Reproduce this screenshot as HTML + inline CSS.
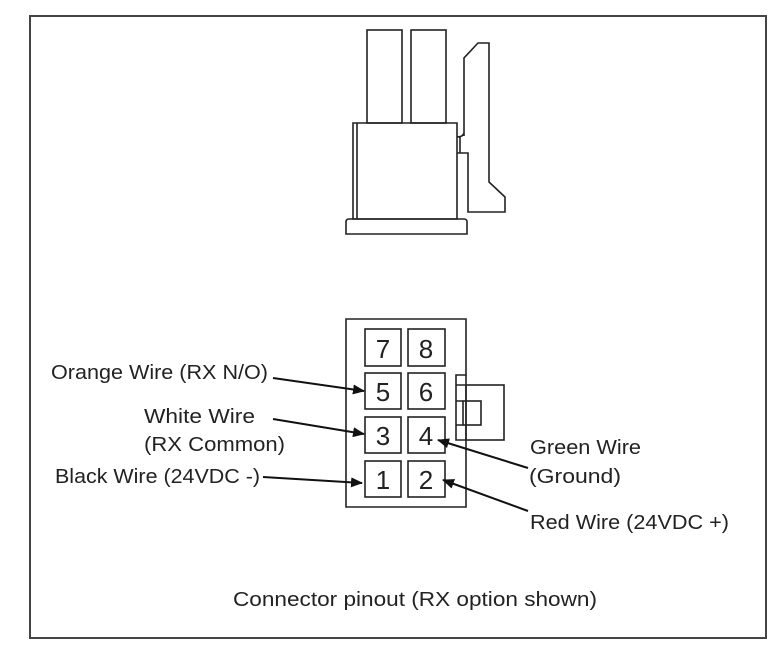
<!DOCTYPE html>
<html><head><meta charset="utf-8"><style>
html,body{margin:0;padding:0;background:#fff;}
svg{display:block;}
text{font-family:"Liberation Sans",sans-serif;fill:#222;font-size:20px;}
</style></head><body>
<svg width="780" height="649" viewBox="0 0 780 649" xmlns="http://www.w3.org/2000/svg">
<defs><marker id="a" markerWidth="12" markerHeight="10" refX="11" refY="5" orient="auto" markerUnits="userSpaceOnUse"><path d="M0,0 L12,5 L0,10 Z" fill="#111"/></marker></defs>
<rect x="30" y="16" width="736" height="622" fill="none" stroke="#444" stroke-width="2"/>
<g fill="none" stroke="#222" stroke-width="1.6">
<rect x="367" y="30" width="35" height="93"/>
<rect x="411" y="30" width="35" height="93"/>
<path d="M353,123 H457 V219 H353 Z"/>
<path d="M357,123 V219"/>
<path d="M346,234 V222 Q346,219 349,219 H464 Q467,219 467,222 V234 Z"/>
<path d="M464,136 V58 L478,43 H489 V182 L505,197 V212 H468 V153 H457"/>
<path d="M464,133 Q463,137 457,137"/>
<path d="M460,137 V153"/>
<path d="M346,319 H466 V375 H456 V440 H466 V507 H346 Z"/>
<path d="M466,375 V440"/>
<rect x="466" y="385" width="38" height="55"/>
<rect x="463" y="401" width="18" height="24"/>
<path d="M456,385 H466 M456,401 H463 M456,425 H463"/>
<rect x="365" y="329" width="36" height="37"/><rect x="408" y="329" width="37" height="37"/>
<rect x="365" y="373" width="36" height="36"/><rect x="408" y="373" width="37" height="36"/>
<rect x="365" y="417" width="36" height="36"/><rect x="408" y="417" width="37" height="36"/>
<rect x="365" y="461" width="36" height="36"/><rect x="408" y="461" width="37" height="36"/>
</g>
<g text-anchor="middle">
<text x="383" y="358" style="font-size:26px">7</text><text x="426" y="358" style="font-size:26px">8</text>
<text x="383" y="401" style="font-size:26px">5</text><text x="426" y="401" style="font-size:26px">6</text>
<text x="383" y="445" style="font-size:26px">3</text><text x="426" y="445" style="font-size:26px">4</text>
<text x="383" y="489" style="font-size:26px">1</text><text x="426" y="489" style="font-size:26px">2</text>
</g>
<g stroke="#111" stroke-width="2" marker-end="url(#a)">
<line x1="273" y1="378" x2="364" y2="391"/>
<line x1="273" y1="419" x2="364" y2="434"/>
<line x1="263" y1="477" x2="362" y2="483"/>
<line x1="528" y1="468" x2="438" y2="440"/>
<line x1="528" y1="511" x2="443" y2="480"/>
</g>
<text x="51" y="379" textLength="217" lengthAdjust="spacingAndGlyphs">Orange Wire (RX N/O)</text>
<text x="144" y="423" textLength="111" lengthAdjust="spacingAndGlyphs">White Wire</text>
<text x="144" y="451" textLength="141" lengthAdjust="spacingAndGlyphs">(RX Common)</text>
<text x="55" y="483" textLength="205" lengthAdjust="spacingAndGlyphs">Black Wire (24VDC -)</text>
<text x="530" y="454" textLength="111" lengthAdjust="spacingAndGlyphs">Green Wire</text>
<text x="529" y="483" textLength="92" lengthAdjust="spacingAndGlyphs">(Ground)</text>
<text x="530" y="529" textLength="199" lengthAdjust="spacingAndGlyphs">Red Wire (24VDC +)</text>
<text x="233" y="606" textLength="364" lengthAdjust="spacingAndGlyphs">Connector pinout (RX option shown)</text>
</svg>
</body></html>
